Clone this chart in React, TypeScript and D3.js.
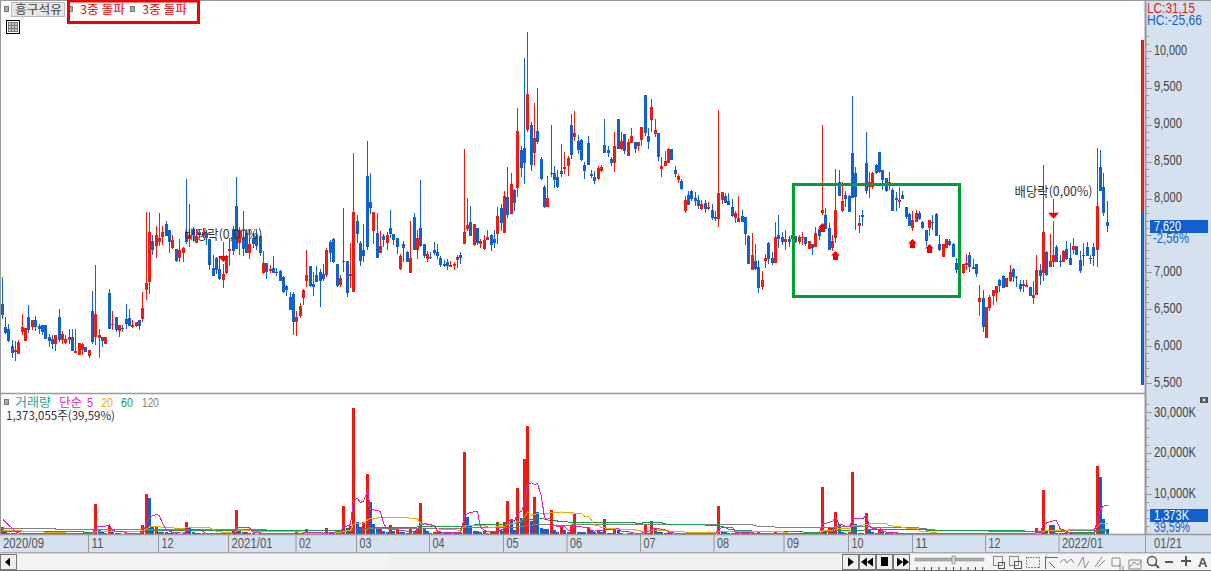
import React from "react";
import * as d3 from "d3";

// [open, high, low, close] per trading day
const ohlc2020: number[][] = [
[6560,6920,6360,6410],[6250,6380,6150,6170],[6220,6290,6040,6060],[5990,6070,5830,5890],[5910,6060,5790,5930],[5880,6070,5880,6040],[6180,6420,6140,6250],[6060,6230,6060,6230],[6380,6550,6170,6210],[6250,6340,6210,6340],
[6340,6400,6190,6250],[6260,6290,6150,6220],[6270,6270,6140,6180],[6270,6270,6080,6080],[6110,6150,5980,6060],[6080,6140,5950,6020],[6020,6140,5920,6140],[6380,6490,6040,6070],[6070,6190,6020,6150],[6030,6140,6020,6080],
[6070,6220,6020,6110],[6110,6220,5920,5920],[5890,6220,5890,5920],[5870,6030,5870,6030],[5940,6030,5870,6020],[5980,5980,5910,5910],[5850,5940,5830,5940],[6460,6730,6020,6040],[6110,7090,6000,6420],[6100,6220,5830,6140],
[6110,6110,5980,6060],[6020,6110,6020,6110],[6710,6760,6220,6220],[6270,6460,6210,6290],[6380,6380,6180,6210],[6190,6270,6110,6270],[6230,6270,6180,6220],[6360,6560,6220,6290],[6370,6490,6260,6260],[6250,6340,6230,6270],
[6260,6320,6250,6320],[6340,6340,6210,6260],[6360,6720,6320,6500],[6750,7810,6610,6840],[6860,7810,6690,7530],[7410,7490,7220,7290],[7340,7620,7180,7490],[7400,7790,7340,7450],[7470,7620,7360,7530],[7640,7680,7480,7480],
[7560,7560,7250,7400],[7320,7490,7300,7430],[7300,7300,7130,7140],[7180,7440,7130,7290],[7250,7330,7130,7320],[7530,8250,7370,7400],[7440,7910,7330,7490],[7580,7600,7400,7490],[7390,7580,7390,7480],[7530,7580,7450,7490],
[7480,7590,7450,7530],[7520,7560,7360,7450],[7440,7440,7020,7090],[7050,7220,6940,6940],[7180,7200,6970,7020],[7030,7210,6880,6900],[6880,7100,6780,6970],[6980,7220,6970,7210],[7280,7450,7070,7300],[7580,7620,7220,7280],
[7890,8280,7300,7300],[7390,7600,7220,7560],[7450,7820,7210,7300],[7520,7580,7250,7250],[7250,7560,7170,7370],[7450,7520,7320,7370],[7480,7580,7290,7340],[7480,7480,7210,7250],[6980,7280,6970,7110],[7110,7110,6900,6990],
[7010,7090,6980,7030],[7050,7210,6980,6980],[6990,7050,6940,6980],[7010,7020,6870,6870],[6920,6940,6710,6720],[6800,6820,6670,6750],[6650,6720,6480,6480],[6690,6720,6140,6320],[6320,6460,6130,6380],
];
const ohlc2021a: number[][] = [
[6400,6570,6370,6530],[6640,6760,6540,6750],[6870,7290,6790,6950],[7070,7070,6790,6800],[6830,6990,6670,6790],[6950,7070,6860,6860],[6990,7030,6520,6870],[6960,7100,6870,6900],[6950,7320,6920,7290],[7400,7430,7130,7250],
[7440,7450,7110,7130],[7100,7100,6790,6800],[6820,6950,6790,6910],[7140,7860,6990,7130],[7140,7140,6650,6710],[6940,7380,6780,6960],[6720,8600,6720,7800],[7680,7760,7390,7510],[7380,7410,7070,7140],[7290,7640,7130,7210],
[8290,8770,7290,7330],[7940,8330,7780,7860],[7550,7800,7370,7800],[7520,7790,7180,7180],[7250,7550,7250,7340],[7480,7510,7330,7430],[7380,7530,7290,7490],[7590,7830,7450,7510],[7510,7510,7360,7430],[7450,7450,7240,7330],
[7030,7240,7020,7210],[7370,7410,7130,7320],[7260,7280,7130,7130],[6980,7680,6980,7180],[7740,7790,7290,7290],[7290,7560,7170,7450],[7590,8240,7330,7340],[7370,7370,7180,7210],[7170,7280,7130,7240],[7190,7260,7170,7180],
[7290,7400,7220,7250],[7260,7370,7170,7210],[7180,7210,7060,7090],[7100,7150,7060,7070],[7130,7170,7020,7070],[7060,7140,7060,7090],[7070,7130,7020,7100],[7150,7220,7050,7200],[7220,7260,7100,7180],[7370,8660,7370,7530],
[7570,7990,7550,7630],[7670,7890,7480,7480],[7360,7640,7340,7640],[7590,7590,7360,7380],[7370,7440,7320,7410],[7300,7490,7290,7430],[7430,7560,7430,7470],[7490,7510,7280,7360],[7440,7560,7320,7380],[7510,7870,7370,7750],
[7860,7910,7550,7660],[7520,8090,7520,8020],[8010,8410,7720,7760],[7780,8330,7780,8180],[8100,8120,7820,7930],[8130,9210,8010,8900],[8650,8700,8280,8400],[8670,9890,8180,8470],[8920,10240,8890,9400],[8980,9020,8360,8440],
[8600,9280,8430,8810],[8900,9490,8730,8750],[8520,8550,8240,8250],[8140,8170,7860,7870],[7870,8290,7870,7990],[8330,8980,8280,8320],[8330,8430,8130,8240],[8280,8370,8130,8140],[8360,8730,8280,8320],[8390,8620,8320,8410],
[8430,8560,8290,8540],[8980,9130,8520,8580],[8820,9170,8770,8880],[8770,8850,8590,8650],[8780,8790,8500,8510],[8440,8480,8250,8360],[8740,8830,8440,8440],
];
const ohlc2021b: number[][] = [
[8320,8370,8270,8290],[8280,8360,8180,8230],[8250,8430,8240,8400],[8360,8440,8350,8420],[8710,9070,8600,8600],[8650,8700,8550,8600],[8520,8550,8430,8470],[8470,8890,8350,8700],[9070,9070,8660,8660],[8660,8890,8650,8770],
[8860,8860,8590,8630],[8560,8790,8560,8750],[8740,8940,8740,8840],[8750,8750,8600,8660],[8700,8750,8630,8750],[8780,8960,8700,8960],[9390,9390,8840,8880],[8840,8940,8660,8750],[9050,9340,8890,9230],[8860,9070,8820,8920],
[8880,8880,8500,8550],[8390,8550,8280,8430],[8430,8630,8430,8500],[8470,8670,8470,8660],[8660,8660,8510,8510],[8370,8430,8280,8320],[8240,8320,8200,8290],[8230,8250,8100,8120],[7820,8020,7790,7970],[8040,8090,7900,7900],
[8090,8100,7950,7980],[7990,8080,7890,7950],[7970,8040,7850,7890],[7850,7970,7830,7910],[7930,7970,7790,7850],[7850,7940,7830,7870],[7830,7910,7700,7720],[7740,7820,7680,7710],[7710,9190,7600,8060],[7970,8080,7910,8080],
[8020,8060,7930,7930],[7950,8060,7900,7900],[7870,7980,7740,7750],[7720,7820,7660,7790],[7670,8020,7670,7720],[7750,7830,7670,7670],[7740,7740,7360,7510],[7480,7490,7100,7100],[7020,7520,7020,7220],[7140,7370,7020,7030],
[7060,7150,6710,6780],[6790,7010,6750,6880],[7140,7240,7050,7180],[7390,7400,7100,7170],[7180,7260,7090,7110],[7110,7670,7110,7470],[7490,7760,7320,7440],[7470,7530,7360,7400],[7400,7560,7290,7440],[7440,7480,7330,7400],
[7490,7530,7330,7440],[7480,7480,7390,7400],[7400,7490,7370,7470],[7450,7530,7360,7470],[7470,7470,7340,7370],[7300,7410,7300,7410],[7370,7370,7220,7320],[7330,7600,7330,7520],[7570,7590,7430,7480],[7790,8980,7760,7830],
[7760,7860,7570,7570],[7590,7660,7290,7290],[7320,7490,7280,7410],[7450,8390,7390,7830],[8210,8370,8020,8020],[7820,8210,7800,7950],[8040,8090,7870,7980],[8020,8040,7800,7800],[8600,9380,7990,7990],[8330,8420,7560,8010],
];
const ohlc2021c: number[][] = [
[7620,7760,7520,7660],[7760,7830,7620,7740],[8470,8890,8050,8090],[8140,8350,7990,8210],[8140,8350,8120,8330],[8440,8460,8320,8330],[8620,8620,8330,8350],[8370,8370,8100,8240],[8270,8270,8080,8090],[8180,8350,8100,8210],
[8100,8130,7820,7820],[7990,8080,7820,7970],[7940,8140,7860,7970],[8040,8090,7980,7980],[7870,7870,7710,7740],[7780,7790,7620,7620],[7590,7820,7550,7700],[7670,7830,7670,7790],[7790,7820,7700,7710],[7670,7680,7570,7590],
[7560,7560,7340,7410],[7590,7700,7480,7700],[7670,7760,7560,7660],[7780,7790,7480,7480],[7370,7490,7280,7290],[7200,7370,7200,7370],[7320,7440,7320,7440],[7410,7440,7340,7360],[7370,7380,7200,7200],[7110,7180,6980,7020],
[7070,7110,7060,7100],[6980,7100,6970,7100],[7090,7240,7020,7110],[7220,7260,6990,7060],[7060,7170,7030,7030],[7100,7100,6920,6970],[6590,6820,6400,6640],[6640,6750,6180,6250],[6100,6520,6100,6520],[6500,6680,6460,6650],
[6670,6750,6550,6750],[6710,6800,6590,6800],[6880,6900,6720,6800],[6940,6950,6780,6780],[6790,6910,6790,6910],[6870,7090,6860,6990],[7030,7050,6860,6920],[6920,6940,6790,6910],[6830,6880,6720,6760],[6830,6880,6720,6800],
[6790,6880,6790,6820],[6790,6790,6670,6670],[6640,6870,6560,6680],[6680,7220,6680,7020],[7020,7100,6820,6940],[6980,8440,6870,7530],[7260,7280,6940,6950],[7060,7510,7060,7140],[7130,7680,7060,7220],[7330,7360,7130,7130],
[7140,7220,7060,7130],[7130,7290,7130,7280],[7300,7410,7150,7170],[7180,7390,7090,7090],[7290,7450,7240,7340],[7340,7340,7220,7220],[7150,7280,6980,7010],[7210,7390,7070,7220],[7330,7400,7210,7210],[7180,7220,7100,7170],
[7330,7390,7070,7210],[7290,8670,7060,7890],[8420,8650,8090,8090],[8140,8330,7750,7790],[7670,7950,7530,7620],
];

// daily volume, thousands of shares
const volumes: number[] = [
1720,600,400,260,380,240,320,430,280,240,
350,210,300,190,320,220,380,180,260,220,
290,200,240,340,190,260,400,700,7370,1390,
500,350,2050,560,300,400,240,320,210,290,
370,260,2210,9830,8850,1800,1970,560,700,500,
370,470,300,240,390,2950,1720,500,350,260,
400,240,310,260,210,300,430,320,250,1200,
5900,800,500,640,390,280,230,310,250,210,
320,240,190,260,210,180,290,210,560,430,
320,1230,370,270,220,290,390,1470,500,310,
650,1100,6880,1500,2000,30960,2950,1900,2950,14740,
7860,2620,1230,1300,900,700,2210,800,1000,600,
600,450,1500,900,1700,7620,1300,900,400,600,
700,500,380,520,420,300,450,380,20150,4180,
2210,800,750,600,900,420,500,700,2950,800,
2950,8110,3600,980,11300,3930,18430,26540,3280,9090,
5400,1470,1230,1230,5900,980,490,1720,980,730,
2210,4910,730,640,500,1720,800,600,800,500,
3690,450,320,1470,1230,380,190,280,320,240,
260,380,2210,440,3190,1230,560,500,410,310,
260,200,250,310,240,190,260,210,180,230,
190,220,170,190,6880,700,500,380,300,440,
700,310,440,280,380,250,500,310,190,260,
220,560,380,260,310,200,240,180,210,190,
260,410,190,560,440,11550,560,1900,1600,5400,
2460,500,380,640,15230,2460,440,310,5160,1400,
560,440,1200,500,310,390,560,250,190,280,
320,240,380,440,250,210,260,190,160,240,
190,210,160,140,250,220,180,190,160,200,
150,190,440,280,380,250,180,220,190,160,
210,310,250,180,200,150,190,160,280,1470,
500,10810,980,2210,2210,440,310,380,560,250,
310,240,260,190,260,160,300,16700,14000,3690,
1373,
];

const priceTicks = [10000, 9500, 9000, 8500, 8000, 7000, 6500, 6000, 5500];
const volumeTicks = [30000, 20000, 10000];
const monthLabels = ["2020/09", "11", "12", "2021/01", "02", "03", "04", "05", "06", "07", "08", "09", "10", "11", "12", "2022/01"];
const monthEdges = [0, 88.5, 158.5, 228.5, 296, 356.5, 429.5, 503.5, 567, 640.5, 714, 784, 848.5, 912.5, 985.5, 1059];
const maWindows = [120, 60, 20, 5];
const maSeeds = [1500, 800, 1000, 4380];
const maColors = ["#808080", "#10a040", "#f0a800", "#e020c0"];
const signalIndex = [245, 249, 272, 277];
const signalPrice = [7656, 7276, 7439, 7371];
const dividendIndex = [66, 314];
const dividendPrice = [7127, 7714];
const rangeBar = [10140, 7820, 5460];

const RED = "#ee1c10";
const BLUE = "#1160d0";
const PANEL = "#d6e1f0";
const GRID = "#999999";
const SANS = "'Liberation Sans', Arial, sans-serif";
const KR = "'Noto Sans CJK KR', 'Noto Sans', sans-serif";

const candles = [...ohlc2020, ...ohlc2021a, ...ohlc2021b, ...ohlc2021c];

const xScale = d3.scaleLinear().domain([0, candles.length - 1]).range([2.2, 1107.1]);
const px = (i: number) => Math.floor(xScale(i));
const yAxis = d3.scaleLinear().domain([5500, 10000]).range([383, 51]);
const yPrice = (p: number) => yAxis(p) - 1;
const yVol = d3.scaleLinear().domain([0, 30000]).range([534.5, 412]);

function movingAverage(win: number, seed: number): number[] {
  return volumes.map((_, i) => {
    const from = Math.max(0, i - win + 1);
    const s = d3.sum(volumes.slice(from, i + 1));
    return (s + Math.max(0, win - i - 1) * seed) / win;
  });
}

function T(props: { x: number; y: number; w?: number; fill?: string; size?: number; font?: string; anchor?: string; children: React.ReactNode }) {
  const { x, y, w, fill = "#444", size = 14, font = SANS, anchor, children } = props;
  const extra = w ? { textLength: w, lengthAdjust: "spacingAndGlyphs" as const } : {};
  return (
    <text x={x} y={y} fill={fill} fontSize={size} fontFamily={font} textAnchor={anchor as any} {...extra}>
      {children}
    </text>
  );
}

function Square({ x, y }: { x: number; y: number }) {
  return <rect x={x + 0.5} y={y + 0.5} width={4} height={5} fill="#aaa" stroke="#777" />;
}

function TransportButton({ x, children }: { x: number; children: React.ReactNode }) {
  return (
    <g>
      <rect x={x + 0.5} y={554.5} width={16} height={15} fill="#f0f0f0" stroke="#777" />
      {children}
    </g>
  );
}

export default function App() {
  const maLine = d3
    .line<number>()
    .x((_, i) => px(i) + 0.5)
    .y((v) => yVol(v));

  const minorPrice = d3.range(5500, 10300, 100);
  const minorVol = d3.range(0, 34000, 2000);
  const fmt = d3.format(",");

  return (
    <svg width={1211} height={571} viewBox="0 0 1211 571" style={{ position: "absolute", left: 0, top: 0, background: "#fff" }}>
      <rect x={0} y={0} width={1211} height={571} fill="#fff" />

      {/* right axis panel */}
      <rect x={1145} y={0} width={66} height={535} fill={PANEL} />
      <line x1={1145.5} y1={0} x2={1145.5} y2={535} stroke={GRID} strokeWidth={2} />
      <line x1={0} y1={0.5} x2={1211} y2={0.5} stroke={GRID} />
      <line x1={0.5} y1={0} x2={0.5} y2={535} stroke={GRID} />
      <line x1={0} y1={393.5} x2={1145} y2={393.5} stroke={GRID} strokeWidth={1.5} />

      {/* price axis */}
      <g shapeRendering="crispEdges">
        {minorPrice.map((p) => (
          <line key={p} x1={1146} x2={p % 500 === 0 ? 1152 : 1149} y1={Math.round(yAxis(p)) + 0.5} y2={Math.round(yAxis(p)) + 0.5} stroke={GRID} />
        ))}
        {minorVol.map((v) => (
          <line key={v} x1={1146} x2={v % 10000 === 0 ? 1152 : 1149} y1={Math.round(yVol(v)) + 0.5} y2={Math.round(yVol(v)) + 0.5} stroke={GRID} />
        ))}
      </g>
      {priceTicks.map((p) => (
        <T key={p} x={1154} y={yAxis(p) + 3.5} w={p >= 10000 ? 33 : 28}>
          {fmt(p)}
        </T>
      ))}
      {volumeTicks.map((v) => (
        <T key={v} x={1154} y={yVol(v) + 4.5} w={42}>
          {`${fmt(v)}K`}
        </T>
      ))}

      {/* candles */}
      <g shapeRendering="crispEdges">
        {candles.map(([o, h, l, c], i) => {
          const col = c >= o ? RED : BLUE;
          const top = Math.round(yPrice(Math.max(o, c)));
          const bot = Math.round(yPrice(Math.min(o, c)));
          return (
            <g key={i} fill={col}>
              <rect x={px(i)} y={Math.round(yPrice(h))} width={1} height={Math.max(1, Math.round(yPrice(l)) - Math.round(yPrice(h)))} />
              <rect x={px(i) - 1} y={top} width={3} height={Math.max(1, bot - top)} />
            </g>
          );
        })}
      </g>

      {/* right range bar */}
      <g shapeRendering="crispEdges">
        <rect x={1141} y={yPrice(rangeBar[0])} width={3} height={yPrice(rangeBar[1]) - yPrice(rangeBar[0])} fill={RED} />
        <rect x={1141} y={yPrice(rangeBar[1])} width={3} height={yPrice(rangeBar[2]) - yPrice(rangeBar[1])} fill={BLUE} />
      </g>

      {/* signal arrows */}
      {signalIndex.map((idx, k) => {
        const cx = px(idx) + 0.5;
        const t = yPrice(signalPrice[k]);
        return (
          <path key={idx} fill="#f00000" d={`M${cx},${t}L${cx + 4.5},${t + 4.5}L${cx + 2.5},${t + 4.5}L${cx + 2.5},${t + 9}L${cx - 2.5},${t + 9}L${cx - 2.5},${t + 4.5}L${cx - 4.5},${t + 4.5}Z`} />
        );
      })}

      {/* dividend markers */}
      {dividendIndex.map((idx, k) => {
        const cx = px(idx) + 0.5;
        const t = yPrice(dividendPrice[k]);
        return (
          <g key={idx}>
            <path fill="#f00000" d={`M${cx},${t}L${cx + 5.5},${t - 6}L${cx - 5.5},${t - 6}Z`} />
            <rect x={cx - 0.5} y={t - 20} width={1} height={14} fill={RED} />
            <T x={cx - 39} y={t - 23} w={78} size={13} font={KR} fill="#333">
              배당락(0,00%)
            </T>
          </g>
        );
      })}

      {/* volume */}
      <g shapeRendering="crispEdges">
        {volumes.map((v, i) => (
          <rect key={i} x={px(i) - 1} y={yVol(v)} width={3} height={yVol(0) - yVol(v)} fill={i === 0 || v > volumes[i - 1] ? RED : BLUE} />
        ))}
      </g>
      <g fill="none" strokeWidth={1} shapeRendering="crispEdges">
        {maWindows.map((w, k) => (
          <path key={w} d={maLine(movingAverage(w, maSeeds[k])) || ""} stroke={maColors[k]} />
        ))}
      </g>

      {/* time axis */}
      <rect x={0} y={535} width={1211} height={18} fill={PANEL} />
      <line x1={0} x2={1211} y1={534.5} y2={534.5} stroke={GRID} strokeWidth={1.5} />
      <line x1={0} x2={1211} y1={553} y2={553} stroke={GRID} strokeWidth={1.5} />
      {monthEdges.map((e, i) => (
        <g key={i}>
          {i > 0 && <line x1={e} x2={e} y1={535} y2={553} stroke={GRID} />}
          <T x={e + 3} y={548} w={monthLabels[i].length === 7 ? 41 : 12} fill="#555">
            {monthLabels[i]}
          </T>
        </g>
      ))}
      <line x1={1145.5} x2={1145.5} y1={535} y2={553} stroke={GRID} />
      <T x={1154} y={548} w={28} fill="#555">
        01/21
      </T>

      {/* axis highlights */}
      <rect x={1150} y={220} width={58} height={13} fill={BLUE} />
      <T x={1154} y={231} w={27} fill="#fff">
        7,620
      </T>
      <T x={1153} y={243} w={36} fill={BLUE}>
        -2,56%
      </T>
      <rect x={1150} y={509} width={58} height={13} fill={BLUE} />
      <T x={1154} y={520} w={35} fill="#fff">
        1,373K
      </T>
      <T x={1154} y={532} w={36} fill={BLUE}>
        39,59%
      </T>
      <T x={1147} y={13} w={48} fill={RED}>
        LC:31,15
      </T>
      <T x={1147} y={25} w={55} fill={BLUE}>
        HC:-25,66
      </T>
      <rect x={1200} y={397} width={8} height={6} fill="#555" />
      <path d="M1202.5,398.5L1205.5,401.5M1205.5,398.5L1202.5,401.5" stroke="#fff" strokeWidth={1} />

      {/* header */}
      <Square x={4} y={6} />
      <rect x={11.5} y={2.5} width={53} height={14} fill="#e6e6e6" stroke="#bbb" />
      <T x={15} y={14} w={47} size={12} font={KR} fill="#444">
        흥구석유
      </T>
      <Square x={68} y={6} />
      <Square x={130} y={6} />
      <T x={80} y={14} w={45} size={12} font={KR} fill="#f00000">
        3중 돌파
      </T>
      <T x={142} y={14} w={45} size={12} font={KR} fill="#f00000">
        3중 돌파
      </T>
      <rect x={68.5} y={1} width={130} height={21.5} fill="none" stroke="#f00000" strokeWidth={3} />
      <g shapeRendering="crispEdges">
        <rect x={6.5} y={20.5} width={13} height={13} fill="#fff" stroke="#000" />
        <rect x={8.5} y={22.5} width={9} height={9} fill="#ccc" stroke="#777" />
        <path d="M11.5,22.5V31.5M14.5,22.5V31.5M8.5,25.5H17.5M8.5,28.5H17.5" stroke="#777" />
      </g>

      {/* volume legend */}
      <Square x={4} y={399} />
      <T x={15} y={407} w={36} size={12} font={KR} fill="#2e9c96">거래량</T>
      <T x={59} y={407} w={23} size={12} font={KR} fill="#e020c0">단순</T>
      <T x={87} y={407} w={6} size={13} fill="#e020c0">5</T>
      <T x={101} y={407} w={12} size={13} fill="#f0a800">20</T>
      <T x={121} y={407} w={12} size={13} fill="#10a040">60</T>
      <T x={142} y={407} w={17} size={13} fill="#808080">120</T>
      <T x={6} y={420} w={109} size={12} font={KR} fill="#333">1,373,055주(39,59%)</T>

      {/* green annotation box */}
      <rect x={793.5} y={184.5} width={166} height={112} fill="none" stroke="#00a030" strokeWidth={3} />

      {/* bottom bar */}
      <rect x={0} y={553.5} width={1211} height={17.5} fill="#f4f4f4" />
      <rect x={388} y={554} width={453} height={16} fill="#efefef" />
      <rect x={0.5} y={554.5} width={16} height={15} fill="#f0f0f0" stroke="#777" />
      <path d="M5,562L10,557.5V566.5Z" fill="#000" />
      <line x1={0} x2={1211} y1={570.5} y2={570.5} stroke="#777" />
      <TransportButton x={842}><path d="M848,557.5L854,562L848,566.5Z" fill="#000" /></TransportButton>
      <TransportButton x={859}><path d="M867,557.5L861,562L867,566.5ZM873,557.5L867,562L873,566.5Z" fill="#000" /></TransportButton>
      <TransportButton x={876}><rect x={881} y={557} width={7} height={9} fill="#000" /></TransportButton>
      <TransportButton x={893}><path d="M897,557.5L903,562L897,566.5ZM903,557.5L909,562L903,566.5Z" fill="#000" /></TransportButton>
      <rect x={915} y={558} width={69} height={3} fill="#aaa" stroke="#888" strokeWidth={0.5} />
      <rect x={952} y={556} width={3} height={8} fill="#ddd" stroke="#666" strokeWidth={0.5} />
      {d3.range(917, 984, 7.3).map((x) => (
        <line key={x} x1={x} x2={x} y1={567} y2={570} stroke="#333" />
      ))}
      <g fill="none" stroke="#888" strokeWidth={1} shapeRendering="crispEdges">
        <rect x={993.5} y={556.5} width={9} height={9} />
        <rect x={998.5} y={562.5} width={6} height={6} stroke="#555" />
        <rect x={1009.5} y={556.5} width={9} height={9} />
        <rect x={1014.5} y={561.5} width={7} height={7} stroke="#555" />
        <rect x={1026.5} y={557.5} width={13} height={10} strokeDasharray="2 1" />
        <path d="M1045.5,556V569M1045,557H1058M1049,562L1055,568" stroke="#666" />
      </g>
      <g fill="none" stroke="#888" strokeWidth={1}>
        <path d="M1060,563L1064,559L1067,563L1071,559L1074,563" />
        <path d="M1078,566L1083,557L1085,568L1089,561" />
        <path d="M1095,567L1102,557M1098,567L1105,560" />
        <path d="M1112,558H1120V566H1112ZM1120,564V570M1123,566V570" />
        <path d="M1129,560H1141V569H1129ZM1130,567L1134,562L1138,565L1141,561" />
      </g>
      <circle cx={1152} cy={561} r={4.5} fill="none" stroke="#555" strokeWidth={1.5} />
      <line x1={1155} y1={564} x2={1159} y2={568} stroke="#555" strokeWidth={2} />
      <rect x={1165} y={561} width={8} height={2} fill="#555" />
      <path d="M1181,561H1191M1186,556V566" stroke="#555" strokeWidth={2} />
      <text x={1198} y={567} fontSize={13} fontWeight="bold" fontFamily={SANS} fill="#555">A</text>
    </svg>
  );
}
